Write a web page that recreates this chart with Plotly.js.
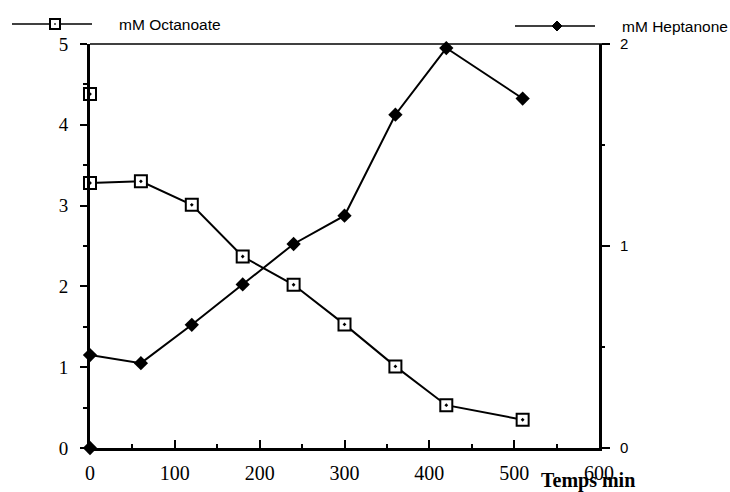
<!DOCTYPE html>
<html>
<head>
<meta charset="utf-8">
<script src="https://cdn.plot.ly/plotly-3.0.1.min.js"></script>
<style>html,body{margin:0;padding:0;background:#fff;}#chart{width:730px;height:492px;}</style>
</head>
<body>
<div id="chart"></div>
<script>
// Data
const timeMin = [0, 60, 120, 180, 240, 300, 360, 420, 510];
const octanoate = [3.28, 3.30, 3.01, 2.37, 2.02, 1.53, 1.01, 0.53, 0.35];
const heptanone = [0.46, 0.42, 0.61, 0.81, 1.01, 1.15, 1.65, 1.98, 1.73];
// isolated initial measurements at t = 0
const octanoateInitTime = [0];
const octanoateInit = [4.38];
const heptanoneInitTime = [0];
const heptanoneInit = [0];
const xTicks = [0, 100, 200, 300, 400, 500, 600];
const yLeftTicks = [0, 1, 2, 3, 4, 5];
const yRightTicks = [0, 1, 2];
const seriesNames = ['mM Octanoate', 'mM Heptanone'];

const serif = 'Liberation Serif, Times New Roman, serif';
const sans = 'Liberation Sans, Arial, sans-serif';

const sqMarker = {symbol: 'square-dot', size: 12, color: '#fff', line: {color: '#000', width: 2}};
const diaMarker = {symbol: 'diamond', size: 11, color: '#000', line: {color: '#000', width: 0}};

const traces = [
  {x: timeMin, y: octanoate, type: 'scatter', mode: 'lines+markers', name: seriesNames[0],
   line: {color: '#000', width: 2}, marker: sqMarker, cliponaxis: false},
  {x: octanoateInitTime, y: octanoateInit, type: 'scatter', mode: 'markers', name: seriesNames[0],
   marker: sqMarker, cliponaxis: false},
  {x: timeMin, y: heptanone, type: 'scatter', mode: 'lines+markers', name: seriesNames[1], yaxis: 'y2',
   line: {color: '#000', width: 2}, marker: diaMarker, cliponaxis: false},
  {x: heptanoneInitTime, y: heptanoneInit, type: 'scatter', mode: 'markers', name: seriesNames[1], yaxis: 'y2',
   marker: diaMarker, cliponaxis: false}
];

// legend keys drawn as layout decorations (pixel-sized around a paper anchor)
const legendShapes = [
  // Octanoate key
  {type: 'line', xref: 'paper', yref: 'paper', xsizemode: 'pixel', ysizemode: 'pixel',
   xanchor: 0, yanchor: 1, x0: -78, x1: 2, y0: 20, y1: 20, line: {color: '#000', width: 1.5}},
  {type: 'rect', xref: 'paper', yref: 'paper', xsizemode: 'pixel', ysizemode: 'pixel',
   xanchor: 0, yanchor: 1, x0: -40, x1: -30, y0: 15, y1: 25, fillcolor: '#fff', line: {color: '#000', width: 2}},
  {type: 'rect', xref: 'paper', yref: 'paper', xsizemode: 'pixel', ysizemode: 'pixel',
   xanchor: 0, yanchor: 1, x0: -35.8, x1: -34.2, y0: 19.2, y1: 20.8, fillcolor: '#000', line: {width: 0}},
  // Heptanone key
  {type: 'line', xref: 'paper', yref: 'paper', xsizemode: 'pixel', ysizemode: 'pixel',
   xanchor: 1, yanchor: 1, x0: -84, x1: -4, y0: 18, y1: 18, line: {color: '#000', width: 1.5}},
  {type: 'path', xref: 'paper', yref: 'paper', xsizemode: 'pixel', ysizemode: 'pixel',
   xanchor: 1, yanchor: 1, path: 'M-47,18 L-42,23 L-37,18 L-42,13 Z', fillcolor: '#000', line: {color: '#000', width: 1}}
];

const layout = {
  width: 730, height: 492,
  margin: {l: 90, r: 131, t: 44, b: 44},
  paper_bgcolor: '#fff', plot_bgcolor: '#fff',
  showlegend: false,
  xaxis: {
    range: [0, 600], tickmode: 'array', tickvals: xTicks, ticktext: xTicks.map(String),
    showgrid: false, zeroline: false, showline: true, linecolor: '#000', linewidth: 3,
    ticks: 'inside', ticklen: 8, tickwidth: 2, tickcolor: '#000',
    minor: {dtick: 50, ticks: 'inside', ticklen: 4, tickwidth: 2, tickcolor: '#000', showgrid: false},
    tickfont: {family: serif, size: 20, color: '#000'}, ticklabelstandoff: 5
  },
  yaxis: {
    range: [0, 5], tickmode: 'array', tickvals: yLeftTicks, ticktext: yLeftTicks.map(String),
    showgrid: false, zeroline: false, showline: true, linecolor: '#000', linewidth: 3,
    ticks: 'outside', ticklen: 7, tickwidth: 2, tickcolor: '#000',
    minor: {dtick: 0.5, ticks: 'outside', ticklen: 4, tickwidth: 2, tickcolor: '#000', showgrid: false},
    tickfont: {family: serif, size: 19, color: '#000'}, ticklabelstandoff: 8
  },
  yaxis2: {
    range: [0, 2], overlaying: 'y', side: 'right', anchor: 'x',
    tickmode: 'array', tickvals: yRightTicks, ticktext: yRightTicks.map(String),
    showgrid: false, zeroline: false, showline: true, linecolor: '#000', linewidth: 3,
    ticks: 'outside', ticklen: 8, tickwidth: 2, tickcolor: '#000',
    minor: {dtick: 0.5, ticks: 'outside', ticklen: 3, tickwidth: 2, tickcolor: '#000', showgrid: false},
    tickfont: {family: sans, size: 15, color: '#000'}, ticklabelstandoff: 7
  },
  shapes: [
    {type: 'line', xref: 'paper', yref: 'paper', x0: 0, x1: 1.008, y0: 1, y1: 1,
     line: {color: '#000', width: 1.5}}
  ].concat(legendShapes),
  annotations: [
    {text: '<b>Temps min</b>', xref: 'paper', yref: 'paper', x: 0.978, y: -0.081,
     xanchor: 'center', yanchor: 'middle', showarrow: false,
     font: {family: serif, size: 20, color: '#000'}},
    {text: seriesNames[0], xref: 'paper', yref: 'paper', xanchor: 'left', yanchor: 'middle',
     x: 0, xshift: 27, y: 1, yshift: 20, showarrow: false,
     font: {family: sans, size: 15.5, color: '#000'}},
    {text: seriesNames[1], xref: 'paper', yref: 'paper', xanchor: 'left', yanchor: 'middle',
     x: 1, xshift: 21, y: 1, yshift: 18, showarrow: false,
     font: {family: sans, size: 15.5, color: '#000'}}
  ]
};

Plotly.newPlot('chart', traces, layout, {displayModeBar: false, staticPlot: true});
</script>
</body>
</html>
